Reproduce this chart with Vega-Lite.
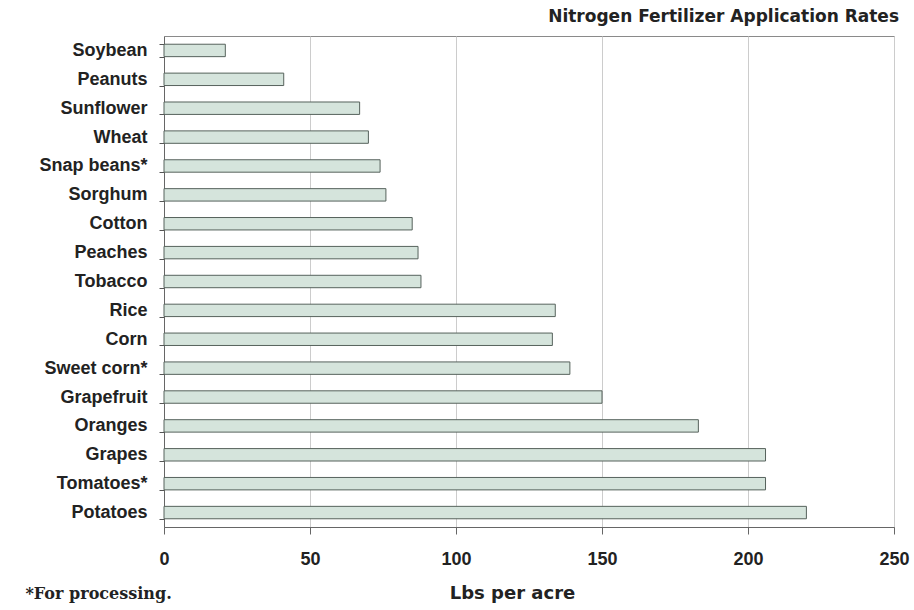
{
  "$schema": "https://vega.github.io/schema/vega-lite/v6.json",
  "width": 730,
  "height": 491,
  "autosize": {"type": "none"},
  "padding": {"left": 164, "top": 36, "right": 20, "bottom": 83},
  "background": "white",
  "title": {
    "text": "Nitrogen Fertilizer Application Rates",
    "anchor": "end",
    "orient": "top",
    "offset": 1,
    "dx": -10,
    "font": "DejaVu Sans",
    "fontSize": 17,
    "fontWeight": "bold",
    "color": "#222222"
  },
  "config": {
    "view": {"stroke": "#8a8a8a", "strokeWidth": 1}
  },
  "data": {
    "values": [
      {"crop": "Soybean", "lbs": 21},
      {"crop": "Peanuts", "lbs": 41},
      {"crop": "Sunflower", "lbs": 67},
      {"crop": "Wheat", "lbs": 70},
      {"crop": "Snap beans*", "lbs": 74},
      {"crop": "Sorghum", "lbs": 76},
      {"crop": "Cotton", "lbs": 85},
      {"crop": "Peaches", "lbs": 87},
      {"crop": "Tobacco", "lbs": 88},
      {"crop": "Rice", "lbs": 134},
      {"crop": "Corn", "lbs": 133},
      {"crop": "Sweet corn*", "lbs": 139},
      {"crop": "Grapefruit", "lbs": 150},
      {"crop": "Oranges", "lbs": 183},
      {"crop": "Grapes", "lbs": 206},
      {"crop": "Tomatoes*", "lbs": 206},
      {"crop": "Potatoes", "lbs": 220}
    ]
  },
  "mark": {"type": "bar", "fill": "#d5e4dc", "stroke": "#56625c", "strokeWidth": 1},
  "encoding": {
    "y": {
      "field": "crop",
      "type": "nominal",
      "sort": null,
      "scale": {"paddingInner": 0.57, "paddingOuter": 0.285},
      "axis": {
        "title": "*For processing.",
        "titleAngle": 0,
        "titleX": -139,
        "titleY": 562,
        "titleAlign": "left",
        "titleBaseline": "alphabetic",
        "titleFont": "DejaVu Serif",
        "titleFontSize": 16,
        "titleFontWeight": "bold",
        "titleColor": "#222222",
        "tickBand": "extent",
        "tickSize": 5,
        "tickColor": "#555555",
        "domainColor": "#666666",
        "labelFont": "Liberation Sans",
        "labelFontSize": 18,
        "labelFontWeight": "bold",
        "labelColor": "#222222",
        "labelPadding": 12,
        "grid": false
      }
    },
    "x": {
      "field": "lbs",
      "type": "quantitative",
      "scale": {"domain": [0, 250], "nice": false},
      "axis": {
        "values": [0, 50, 100, 150, 200, 250],
        "title": "Lbs per acre",
        "titleX": 348,
        "titleY": 71,
        "titleAlign": "center",
        "titleBaseline": "alphabetic",
        "titleFont": "DejaVu Sans",
        "titleFontSize": 18,
        "titleFontWeight": "bold",
        "titleColor": "#222222",
        "grid": true,
        "gridColor": "#cccccc",
        "tickSize": 7,
        "tickColor": "#666666",
        "domainColor": "#666666",
        "labelFont": "Liberation Sans",
        "labelFontSize": 18,
        "labelFontWeight": "bold",
        "labelColor": "#222222",
        "labelPadding": 16,
        "labelFlush": false
      }
    }
  }
}
